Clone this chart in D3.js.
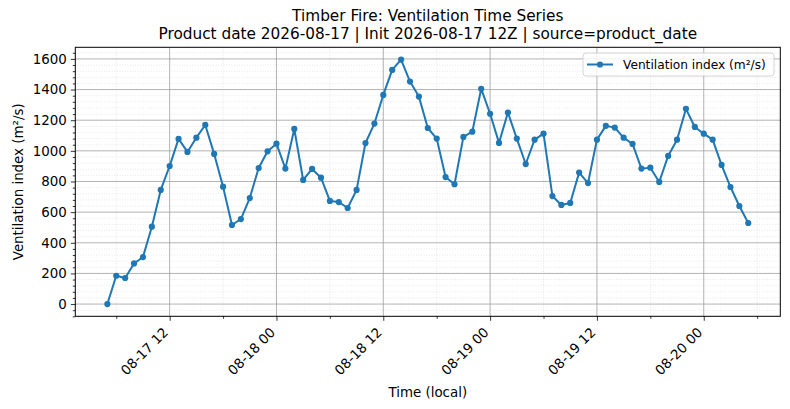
<!DOCTYPE html>
<html>
<head>
<meta charset="utf-8">
<script src="https://cdn.jsdelivr.net/npm/d3@7"></script>
<style>
  body { margin: 0; background: #fff; }
  text { font-family: "DejaVu Sans", sans-serif; fill: #000; }
</style>
</head>
<body>
<script>
// hourly ventilation index, 08-17 05:00 .. 08-20 05:00 local
const startTime = "2026-08-17T05:00:00Z";
const ventIndex = [
  0, 185, 170, 265, 307, 505, 745, 901, 1078, 993, 1086, 1169, 980,
  766, 516, 555, 692, 888, 997, 1047, 884, 1143, 810, 882, 825, 673,
  666, 627, 745, 1051, 1178, 1365, 1528, 1596, 1452, 1354, 1149, 1080, 829,
  782, 1091, 1125, 1405, 1242, 1052, 1250, 1080, 914, 1073, 1112, 705,
  647, 660, 858, 790, 1073, 1163, 1152, 1086, 1045, 884, 890, 797,
  967, 1073, 1274, 1156, 1112, 1073, 908, 764, 640, 529
];
const yTicks = [0, 200, 400, 600, 800, 1000, 1200, 1400, 1600];
const xTickLabels = ["08-17 12", "08-18 00", "08-18 12", "08-19 00", "08-19 12", "08-20 00"];
const titleLines = [
  "Timber Fire: Ventilation Time Series",
  "Product date 2026-08-17 | Init 2026-08-17 12Z | source=product_date"
];
const seriesName = "Ventilation index (m\u00b2/s)";

const width = 790, height = 409;
const margin = {top: 47.3, left: 75.3, right: 9.7, bottom: 92.7};
const color = "#1f77b4";
const tickFont = 13.4;

const t0 = new Date(startTime);
const times = ventIndex.map((d, i) => d3.utcHour.offset(t0, i));
const data = times.map((t, i) => ({t: t, v: ventIndex[i]}));

const svg = d3.select("body").append("svg")
  .attr("width", width)
  .attr("height", height);

// 5% padding like matplotlib
const tExt = d3.extent(times);
const tPad = (tExt[1] - tExt[0]) * 0.05;
const vExt = d3.extent(ventIndex);
const vPad = (vExt[1] - vExt[0]) * 0.05;

const x = d3.scaleUtc()
  .domain([new Date(+tExt[0] - tPad), new Date(+tExt[1] + tPad)])
  .range([margin.left, width - margin.right]);
const y = d3.scaleLinear()
  .domain([vExt[0] - vPad, vExt[1] + vPad])
  .range([height - margin.bottom, margin.top]);

const majorX = d3.utcHour.every(12).range(x.domain()[0], x.domain()[1]);
const minorX = d3.utcHour.every(6).range(x.domain()[0], x.domain()[1])
  .filter(d => d.getUTCHours() % 12 !== 0);
const minorY = d3.range(-80, 1680, 40).filter(v => v % 200 !== 0);

const xL = margin.left, xR = width - margin.right;
const yT = margin.top, yB = height - margin.bottom;

// minor grid
const grid = svg.append("g");
grid.selectAll(".mgy").data(minorY).enter().append("line")
  .attr("x1", xL).attr("x2", xR)
  .attr("y1", d => y(d)).attr("y2", d => y(d))
  .attr("stroke", "#d6d6d6").attr("stroke-width", 0.6)
  .attr("stroke-dasharray", "1,1.6");
grid.selectAll(".mgx").data(minorX).enter().append("line")
  .attr("x1", d => x(d)).attr("x2", d => x(d))
  .attr("y1", yT).attr("y2", yB)
  .attr("stroke", "#d6d6d6").attr("stroke-width", 0.6)
  .attr("stroke-dasharray", "1,1.6");
// major grid
grid.selectAll(".gy").data(yTicks).enter().append("line")
  .attr("x1", xL).attr("x2", xR)
  .attr("y1", d => y(d)).attr("y2", d => y(d))
  .attr("stroke", "#a0a0a0").attr("stroke-width", 0.8);
grid.selectAll(".gx").data(majorX).enter().append("line")
  .attr("x1", d => x(d)).attr("x2", d => x(d))
  .attr("y1", yT).attr("y2", yB)
  .attr("stroke", "#a0a0a0").attr("stroke-width", 0.8);

// axes
const yAxis = d3.axisLeft(y).tickValues(yTicks).tickSize(4.5).tickPadding(4).tickFormat(d3.format("d"));
const yMinor = d3.axisLeft(y).tickValues(minorY).tickSize(2.5).tickFormat("");
const xAxis = d3.axisBottom(x).tickValues(majorX).tickSize(4.5).tickPadding(4)
  .tickFormat((d, i) => xTickLabels[i]);
const xMinor = d3.axisBottom(x).tickValues(minorX).tickSize(2.5).tickFormat("");

function styleAxis(g) {
  g.select(".domain").remove();
  g.selectAll("line").attr("stroke", "#000").attr("stroke-width", 0.8);
  g.selectAll("text").attr("font-size", tickFont).attr("font-family", "DejaVu Sans").attr("fill", "#000");
}

svg.append("g").attr("transform", `translate(${xL},0)`).call(yMinor).call(styleAxis);
svg.append("g").attr("transform", `translate(${xL},0)`).call(yAxis).call(styleAxis);
svg.append("g").attr("transform", `translate(0,${yB})`).call(xMinor).call(styleAxis);
const gx = svg.append("g").attr("transform", `translate(0,${yB})`).call(xAxis).call(styleAxis);
gx.selectAll("text")
  .attr("text-anchor", "end")
  .attr("y", 0).attr("dy", 0)
  .attr("transform", "translate(-1,17) rotate(-45)");

// frame
svg.append("rect")
  .attr("x", xL).attr("y", yT)
  .attr("width", xR - xL).attr("height", yB - yT)
  .attr("fill", "none").attr("stroke", "#000").attr("stroke-width", 1);

// series
const line = d3.line().x(d => x(d.t)).y(d => y(d.v));
svg.append("path").datum(data)
  .attr("d", line)
  .attr("fill", "none").attr("stroke", color).attr("stroke-width", 2)
  .attr("stroke-linejoin", "round");
svg.append("g").selectAll("circle").data(data).enter().append("circle")
  .attr("cx", d => x(d.t)).attr("cy", d => y(d.v))
  .attr("r", 3.1).attr("fill", color);

// titles
svg.append("g").selectAll("text").data(titleLines).enter().append("text")
  .attr("x", (xL + xR) / 2)
  .attr("y", (d, i) => 21 + i * 18)
  .attr("text-anchor", "middle")
  .attr("font-size", 15.3)
  .text(d => d);

svg.append("text")
  .attr("x", (xL + xR) / 2).attr("y", 397)
  .attr("text-anchor", "middle").attr("font-size", tickFont)
  .text("Time (local)");
svg.append("text")
  .attr("transform", `translate(22.5,${(yT + yB) / 2}) rotate(-90)`)
  .attr("text-anchor", "middle").attr("font-size", tickFont)
  .text(seriesName);

// legend
const lg = svg.append("g").attr("transform", "translate(583,53)");
lg.append("rect")
  .attr("width", 191).attr("height", 23).attr("rx", 3)
  .attr("fill", "#fff").attr("fill-opacity", 0.8)
  .attr("stroke", "#cccccc").attr("stroke-width", 0.8);
lg.append("line")
  .attr("x1", 4).attr("x2", 30).attr("y1", 11.5).attr("y2", 11.5)
  .attr("stroke", color).attr("stroke-width", 2);
lg.append("circle").attr("cx", 17).attr("cy", 11.5).attr("r", 3.1).attr("fill", color);
lg.append("text").attr("x", 40).attr("y", 16)
  .attr("font-size", 12.2).text(seriesName);
</script>
</body>
</html>
